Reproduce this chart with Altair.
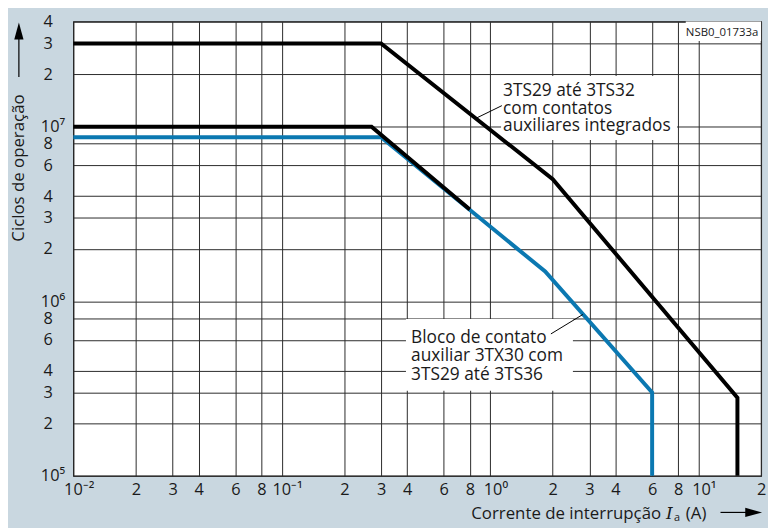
import altair as alt
import pandas as pd

# ---------------- data ----------------
x_ticks = [0.01, 0.02, 0.03, 0.04, 0.06, 0.08, 0.1, 0.2, 0.3, 0.4, 0.6, 0.8,
           1, 2, 3, 4, 6, 8, 10, 20]
x_tick_labels = ["10⁻²", "2", "3", "4", "6", "8", "10⁻¹", "2", "3", "4", "6", "8",
                 "10⁰", "2", "3", "4", "6", "8", "10¹", "2"]
y_ticks = [1e5, 2e5, 3e5, 4e5, 6e5, 8e5, 1e6, 2e6, 3e6, 4e6, 6e6, 8e6,
           1e7, 2e7, 3e7, 4e7]
y_tick_labels = ["10⁵", "2", "3", "4", "6", "8", "10⁶", "2", "3", "4", "6", "8",
                 "10⁷", "2", "3", "4"]

# 3TS29..3TS32 with integrated auxiliary contacts (upper black curve)
top_x = [0.01, 0.3, 2.0, 15.4, 15.4]
top_y = [3e7, 3e7, 5e6, 2.8e5, 1e5]
# second black curve (merges into blue)
mid_x = [0.01, 0.27, 0.8]
mid_y = [1e7, 1e7, 3.35e6]
# auxiliary contact block 3TX30 (blue curve)
blue_x = [0.01, 0.3, 1.84, 6.0, 6.0]
blue_y = [8.7e6, 8.7e6, 1.48e6, 3e5, 1e5]

ann1_lines = ["3TS29 até 3TS32", "com contatos", "auxiliares integrados"]
ann2_lines = ["Bloco de contato", "auxiliar 3TX30 com", "3TS29 até 3TS36"]
code_text = "NSB0_01733a"

# ---------------- helpers ----------------
FONT = "Open Sans"
BG = "#c9d7e0"
BLUE = "#0b78b1"
INK = "#1a1a1a"

def series(xs, ys, name):
    return pd.DataFrame({"x": xs, "y": ys, "i": list(range(len(xs))), "s": name})

lines_df = pd.concat([series(top_x, top_y, "top"), series(mid_x, mid_y, "mid")])
blue_df = series(blue_x, blue_y, "blue")

def js_list(vals):
    return "[" + ",".join(repr(float(v)) for v in vals) + "]"

def js_str_list(vals):
    return "[" + ",".join("'" + v + "'" for v in vals) + "]"

x_expr = f"{js_str_list(x_tick_labels)}[indexof({js_list(x_ticks)}, datum.value)]"
y_expr = f"{js_str_list(y_tick_labels)}[indexof({js_list(y_ticks)}, datum.value)]"
x_dec = "indexof([0.01,0.1,1,10], datum.value) >= 0"
y_dec = "indexof([100000,1000000,10000000], datum.value) >= 0"

xscale = alt.Scale(type="log", domain=[0.01, 20], nice=False)
yscale = alt.Scale(type="log", domain=[1e5, 4e7], nice=False)

xaxis = alt.Axis(values=x_ticks, labelExpr=x_expr, title=None, grid=True,
                 ticks=False, tickSize=0, domain=False, labelOverlap=False,
                 labelFlush=False, labelBound=False, labelPadding=6,
                 labelBaseline="top", labelAlign="center",
                 labelOffset={"condition": {"test": x_dec, "value": 5.5}, "value": 0})
yaxis = alt.Axis(values=y_ticks, labelExpr=y_expr, title=None, grid=True,
                 ticks=False, tickSize=0, domain=False, labelOverlap=False,
                 labelFlush=False, labelBound=False, labelAlign="center",
                 labelBaseline="middle",
                 labelPadding={"condition": {"test": y_dec, "value": 21}, "value": 26})

X = alt.X("x:Q", scale=xscale, axis=xaxis)
Y = alt.Y("y:Q", scale=yscale, axis=yaxis)

# white boxes behind annotation texts
boxes = pd.DataFrame({
    "x": [1.13, 0.395, 8.7],
    "x2": [7.9, 2.5, 20],
    "y": [8.4e6, 3.07e5, 3.1e7],
    "y2": [1.95e7, 7.9e5, 4e7],
})
box_layer = alt.Chart(boxes).mark_rect(color="white").encode(
    x=X, x2="x2:Q", y=Y, y2="y2:Q")

blue_layer = alt.Chart(blue_df).mark_line(color=BLUE, strokeWidth=4, strokeJoin="miter").encode(
    x=X, y=Y, order="i:Q")
black_layer = alt.Chart(lines_df).mark_line(color="black", strokeWidth=4, strokeJoin="miter").encode(
    x=X, y=Y, detail="s:N", order="i:Q")

leaders = pd.DataFrame({
    "x": [0.86, 1.96], "y": [1.12e7, 6.5e5],
    "x2": [1.14, 2.79], "y2": [1.32e7, 8.4e5],
})
leader_layer = alt.Chart(leaders).mark_rule(color="black", strokeWidth=1).encode(
    x=X, y=Y, x2="x2:Q", y2="y2:Q")

ann = pd.DataFrame({
    "x": [1.155] * 3 + [0.418] * 3,
    "y": [1.5e7, 1.19e7, 9.5e6, 5.75e5, 4.54e5, 3.54e5],
    "t": ann1_lines + ann2_lines,
})
ann_layer = alt.Chart(ann).mark_text(align="left", baseline="alphabetic", font=FONT,
                                     fontSize=17.5, color=INK).encode(
    x=X, y=Y, text="t:N")

code_layer = alt.Chart(pd.DataFrame({"x": [13.0], "y": [3.31e7], "t": [code_text]})).mark_text(
    align="center", baseline="alphabetic", font=FONT, fontSize=11.5, color=INK).encode(
    x=X, y=Y, text="t:N")

one = pd.DataFrame({"k": [0]})
# y-axis title and arrow (plot-area pixel coordinates)
ytitle = alt.Chart(one).mark_text(text="Ciclos de operação", angle=270, font=FONT, fontSize=17,
                                  color=INK, align="center", baseline="middle").encode(
    x=alt.value(-55), y=alt.value(148))
yarrow = alt.Chart(one).mark_rule(color="black", strokeWidth=1.2).encode(
    x=alt.value(-55), y=alt.value(16), y2=alt.value(56))
yhead = alt.Chart(one).mark_point(shape="M0,-1L0.55,1L-0.55,1Z", filled=True, color="black",
                                  opacity=1, size=289).encode(
    x=alt.value(-55), y=alt.value(9.5))

# x-axis title and arrow
xt1 = alt.Chart(one).mark_text(text="Corrente de interrupção", font=FONT, fontSize=17, color=INK,
                               align="right", baseline="alphabetic").encode(
    x=alt.value(594), y=alt.value(503))
xt2 = alt.Chart(one).mark_text(text="I", font="DejaVu Serif", fontSize=17, fontStyle="italic",
                               color=INK, align="left", baseline="alphabetic").encode(
    x=alt.value(599), y=alt.value(503))
xt3 = alt.Chart(one).mark_text(text="a", font=FONT, fontSize=11, color=INK,
                               align="left", baseline="alphabetic").encode(
    x=alt.value(607), y=alt.value(505))
xt4 = alt.Chart(one).mark_text(text="(A)", font=FONT, fontSize=17, color=INK,
                               align="left", baseline="alphabetic").encode(
    x=alt.value(619), y=alt.value(503))
xarrow = alt.Chart(one).mark_rule(color="black", strokeWidth=1.2).encode(
    x=alt.value(654), x2=alt.value(682), y=alt.value(496))
xhead = alt.Chart(one).mark_point(shape="M1,0L-1,-0.55L-1,0.55Z", filled=True, color="black",
                                  opacity=1, size=289).encode(
    x=alt.value(687.5), y=alt.value(496))

chart = alt.layer(
    box_layer, blue_layer, black_layer, leader_layer, ann_layer, code_layer,
    ytitle, yarrow, yhead, xt1, xt2, xt3, xt4, xarrow, xhead,
).properties(
    width=695, height=459,
    autosize=alt.AutoSizeParams(type="none"),
    padding={"left": 66, "top": 11, "right": 7, "bottom": 50},
    background=BG,
).configure_view(
    fill="white", stroke="#222222", strokeWidth=1.2,
).configure_axis(
    gridColor="#2a2a2a", gridWidth=1, gridOpacity=1,
    labelFont=FONT, labelFontSize=16.5, labelColor=INK,
)

chart.save("out.html", embed_options={"renderer": "svg", "actions": False})
